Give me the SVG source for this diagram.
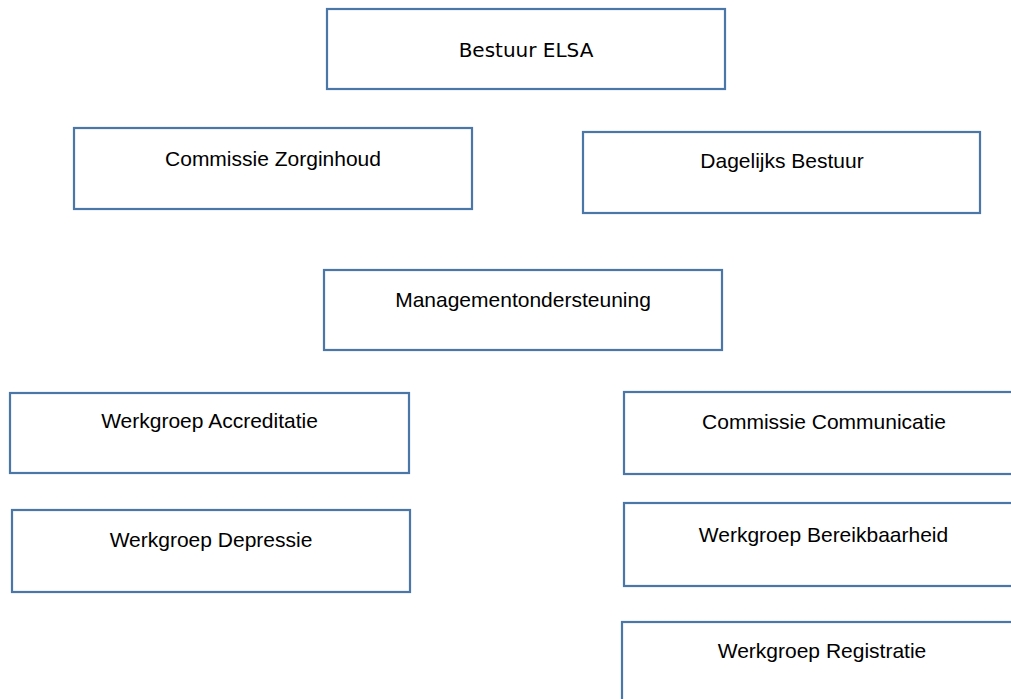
<svg xmlns="http://www.w3.org/2000/svg" width="1011" height="699" viewBox="0 0 1011 699">
<style>
.box{fill:#ffffff;stroke:#4a76a8;stroke-width:2.2}
.t{font-family:"Liberation Sans",Arial,sans-serif;font-size:21px;fill:#000;text-anchor:middle}
.v{font-family:"DejaVu Sans",Verdana,sans-serif;font-size:20px;fill:#000;text-anchor:middle}
</style>
<rect width="1011" height="699" fill="#ffffff"/>
<g id="connectors"></g>
<g id="bestuur-elsa"><rect class="box" x="327" y="9" width="398" height="80"/><text class="v" x="526" y="57">Bestuur ELSA</text></g>
<g id="commissie-zorginhoud"><rect class="box" x="74" y="128" width="398" height="81"/><text class="t" x="273" y="166">Commissie Zorginhoud</text></g>
<g id="dagelijks-bestuur"><rect class="box" x="583" y="132" width="397" height="81"/><text class="t" x="782" y="168">Dagelijks Bestuur</text></g>
<g id="managementondersteuning"><rect class="box" x="324" y="270" width="398" height="80"/><text class="t" x="523" y="307">Managementondersteuning</text></g>
<g id="werkgroep-accreditatie"><rect class="box" x="10" y="393" width="399" height="80"/><text class="t" x="209.5" y="428">Werkgroep Accreditatie</text></g>
<g id="werkgroep-depressie"><rect class="box" x="12" y="510" width="398" height="82"/><text class="t" x="211" y="547">Werkgroep Depressie</text></g>
<g id="commissie-communicatie"><rect class="box" x="624" y="392" width="400" height="82"/><text class="t" x="824" y="429">Commissie Communicatie</text></g>
<g id="werkgroep-bereikbaarheid"><rect class="box" x="624" y="503" width="400" height="83"/><text class="t" x="823.5" y="542">Werkgroep Bereikbaarheid</text></g>
<g id="werkgroep-registratie"><rect class="box" x="622" y="622" width="402" height="90"/><text class="t" x="822" y="658">Werkgroep Registratie</text></g>
</svg>
